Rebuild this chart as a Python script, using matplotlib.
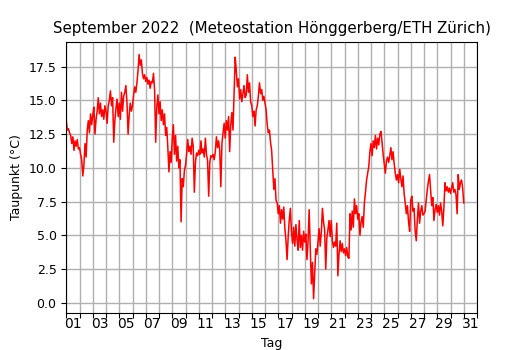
import numpy as np
import matplotlib
matplotlib.use("Agg")
import matplotlib.pyplot as plt

# Dew point (°C), 2-hourly readings per day of September 2022 (12 values per day)
day01 = [13.5, 12.8, 12.9, 12.6, 12.4, 11.8, 12.3, 11.3, 12.0, 11.6, 12.1, 11.4]
day02 = [11.5, 11.0, 10.6, 9.4, 10.2, 11.8, 10.8, 12.8, 13.5, 12.6, 14.0, 13.2]
day03 = [13.9, 14.5, 12.5, 13.6, 14.2, 15.2, 14.0, 14.8, 13.8, 14.3, 13.6, 14.6]
day04 = [14.2, 13.3, 14.6, 15.0, 15.7, 14.6, 15.2, 11.9, 13.5, 14.4, 15.1, 13.8]
day05 = [14.8, 13.6, 15.6, 14.2, 15.3, 15.6, 16.1, 14.8, 12.5, 13.9, 14.8, 14.2]
day06 = [14.6, 15.4, 16.0, 15.6, 16.3, 17.2, 18.4, 17.6, 18.0, 17.0, 16.6, 16.9]
day07 = [16.4, 16.7, 16.2, 16.5, 15.9, 16.4, 16.3, 17.0, 15.8, 11.9, 14.5, 15.4]
day08 = [14.0, 14.9, 13.5, 14.3, 13.2, 14.0, 12.4, 13.0, 11.5, 9.7, 11.2, 10.4]
day09 = [12.2, 13.2, 11.0, 12.4, 10.5, 11.6, 10.0, 10.6, 6.0, 9.2, 8.6, 9.8]
day10 = [10.2, 11.0, 12.1, 11.2, 11.6, 11.0, 12.2, 11.6, 8.2, 10.4, 11.1, 10.9]
day11 = [11.3, 11.0, 12.0, 11.1, 11.4, 10.8, 12.2, 11.0, 10.5, 7.9, 10.4, 10.9]
day12 = [10.8, 11.0, 10.6, 11.2, 12.3, 11.5, 12.0, 11.3, 8.6, 11.8, 12.6, 13.3]
day13 = [12.2, 13.5, 12.8, 13.8, 11.2, 13.2, 14.1, 12.8, 15.5, 18.2, 17.2, 16.0]
day14 = [16.6, 15.1, 15.8, 14.9, 15.5, 16.1, 15.2, 15.4, 16.9, 15.6, 16.3, 14.9]
day15 = [14.6, 13.8, 14.2, 13.1, 14.3, 14.6, 15.3, 16.3, 15.5, 15.8, 15.0, 15.3]
day16 = [14.8, 14.3, 13.2, 12.6, 12.8, 11.9, 11.3, 9.8, 8.4, 9.2, 7.6, 7.4]
day17 = [6.6, 7.2, 5.9, 6.9, 6.2, 7.1, 5.5, 4.6, 3.2, 4.9, 6.2, 7.0]
day18 = [5.2, 4.4, 5.6, 4.2, 5.8, 4.7, 3.9, 6.1, 4.1, 5.0, 3.9, 5.3]
day19 = [4.5, 5.1, 3.2, 4.6, 6.9, 4.0, 1.4, 3.0, 0.3, 2.2, 4.0, 3.6]
day20 = [4.6, 5.5, 4.2, 5.2, 7.0, 6.0, 5.4, 2.5, 4.8, 5.4, 6.1, 4.9]
day21 = [6.1, 4.6, 4.1, 4.5, 4.2, 5.9, 2.0, 3.6, 4.6, 3.8, 4.4, 3.7]
day22 = [4.0, 3.5, 4.1, 3.4, 3.3, 6.6, 5.4, 6.8, 5.6, 7.7, 6.6, 7.2]
day23 = [6.2, 6.6, 5.0, 6.0, 6.4, 5.6, 7.4, 8.2, 9.1, 9.6, 10.1, 11.2]
day24 = [11.8, 10.9, 12.0, 11.5, 12.4, 11.4, 12.2, 11.7, 12.5, 12.7, 11.9, 11.0]
day25 = [10.3, 9.6, 10.5, 10.8, 10.4, 10.9, 11.5, 10.6, 11.2, 10.3, 9.6, 9.1]
day26 = [9.5, 8.9, 9.9, 9.2, 8.6, 9.4, 8.1, 7.4, 6.6, 7.2, 6.0, 5.3]
day27 = [7.6, 7.9, 6.8, 7.0, 5.3, 4.6, 6.2, 7.4, 5.9, 6.8, 7.2, 6.5]
day28 = [6.6, 6.8, 7.6, 8.4, 9.0, 9.5, 8.3, 7.2, 7.8, 6.1, 6.9, 7.3]
day29 = [6.7, 7.2, 6.5, 7.4, 6.8, 5.7, 7.0, 8.9, 8.3, 8.6, 8.2, 8.5]
day30 = [8.1, 8.5, 8.9, 8.2, 8.4, 8.0, 6.6, 9.5, 8.4, 8.9, 9.1, 8.5]
final_value = [7.4]

tick_labels = ["01", "03", "05", "07", "09", "11", "13", "15",
               "17", "19", "21", "23", "25", "27", "29", "31"]

days = [day01, day02, day03, day04, day05, day06, day07, day08, day09, day10,
        day11, day12, day13, day14, day15, day16, day17, day18, day19, day20,
        day21, day22, day23, day24, day25, day26, day27, day28, day29, day30]
values = np.concatenate([np.array(d) for d in days] + [np.array(final_value)])
t = np.arange(len(values)) / 12.0

fig = plt.figure(figsize=(5.3, 3.5), dpi=100)
ax = fig.add_axes([0.125, 0.107, 0.775, 0.774])
ax.plot(t, values, color="red", linewidth=1.1)

ax.set_xlim(0, 31)
ax.set_ylim(-0.72, 19.35)
ax.set_xticks(np.arange(0, 32, 1))
ax.set_xticklabels([])
ax.set_xticks(np.arange(0.5, 31, 2), minor=True)
ax.set_xticklabels(tick_labels, minor=True)
ax.tick_params(axis="x", which="minor", length=0)
ax.set_yticks(np.arange(0, 18, 2.5))
ax.grid(True, which="major", color="#b0b0b0", linewidth=1.0)

ax.set_title("September 2022  (Meteostation Hönggerberg/ETH Zürich)", fontsize=10.8)
ax.set_xlabel("Tag", fontsize=9)
ax.set_ylabel("Taupunkt (°C)", fontsize=9)
ax.tick_params(labelsize=9)

fig.savefig("out.png", dpi=100)
